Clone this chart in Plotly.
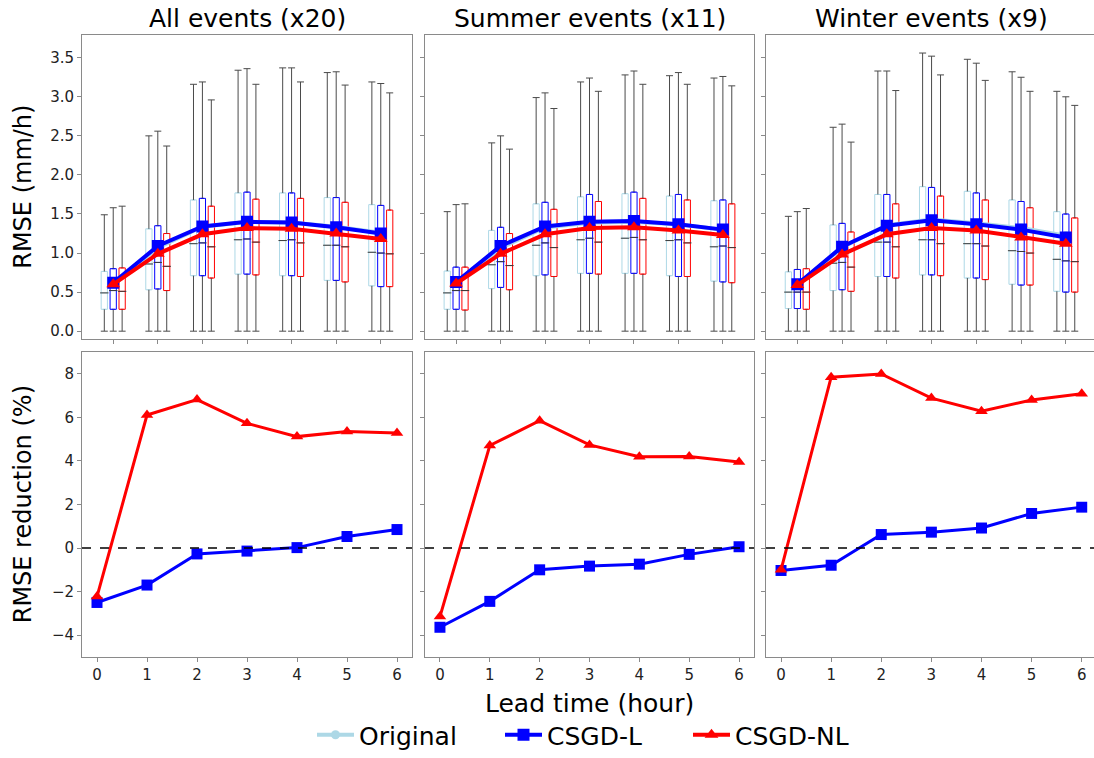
import plotly.graph_objects as go
from plotly.subplots import make_subplots

# ---------------- data ----------------
leads = [0, 1, 2, 3, 4, 5, 6]
series_names = ["Original", "CSGD-L", "CSGD-NL"]
panel_titles = ["All events (x20)", "Summer events (x11)", "Winter events (x9)"]

# All events: rows = Original, CSGD-L, CSGD-NL
all_min = [[0, 0, 0, 0, 0, 0, 0], [0, 0, 0, 0, 0, 0, 0], [0, 0, 0, 0, 0, 0, 0]]
all_q1 = [[0.28, 0.53, 0.71, 0.73, 0.71, 0.65, 0.58],
          [0.28, 0.54, 0.71, 0.73, 0.71, 0.65, 0.57],
          [0.28, 0.52, 0.68, 0.72, 0.70, 0.63, 0.57]]
all_med = [[0.49, 0.86, 1.12, 1.17, 1.16, 1.10, 1.01],
           [0.52, 0.88, 1.13, 1.18, 1.17, 1.10, 1.00],
           [0.51, 0.83, 1.08, 1.14, 1.13, 1.08, 0.99]]
all_q3 = [[0.765, 1.31, 1.68, 1.77, 1.77, 1.71, 1.62],
          [0.80, 1.35, 1.70, 1.78, 1.77, 1.71, 1.61],
          [0.81, 1.25, 1.60, 1.69, 1.70, 1.65, 1.55]]
all_max = [[1.49, 2.50, 3.16, 3.34, 3.37, 3.31, 3.19],
           [1.58, 2.56, 3.19, 3.36, 3.37, 3.32, 3.17],
           [1.60, 2.37, 2.96, 3.16, 3.19, 3.15, 3.05]]
all_mean = [[0.605, 1.07, 1.337, 1.398, 1.39, 1.337, 1.26],
            [0.62, 1.09, 1.34, 1.40, 1.39, 1.33, 1.25],
            [0.60, 0.99, 1.24, 1.32, 1.31, 1.25, 1.18]]
all_red_L = [-2.5, -1.70, -0.27, -0.14, 0.02, 0.53, 0.85]
all_red_NL = [-2.23, 6.11, 6.82, 5.73, 5.12, 5.35, 5.29]

# Summer events
sum_min = [[0, 0, 0, 0, 0, 0, 0], [0, 0, 0, 0, 0, 0, 0], [0, 0, 0, 0, 0, 0, 0]]
sum_q1 = [[0.28, 0.545, 0.71, 0.74, 0.74, 0.71, 0.64],
          [0.28, 0.56, 0.72, 0.74, 0.74, 0.70, 0.63],
          [0.27, 0.53, 0.70, 0.73, 0.73, 0.70, 0.62]]
sum_med = [[0.49, 0.85, 1.10, 1.17, 1.19, 1.16, 1.08],
           [0.52, 0.89, 1.13, 1.19, 1.20, 1.17, 1.09],
           [0.52, 0.84, 1.07, 1.14, 1.17, 1.13, 1.07]]
sum_q3 = [[0.77, 1.29, 1.63, 1.72, 1.76, 1.73, 1.67],
          [0.82, 1.33, 1.65, 1.75, 1.78, 1.75, 1.68],
          [0.82, 1.25, 1.56, 1.66, 1.70, 1.68, 1.63]]
sum_max = [[1.53, 2.41, 2.99, 3.19, 3.28, 3.27, 3.24],
           [1.62, 2.50, 3.05, 3.24, 3.33, 3.31, 3.26],
           [1.63, 2.33, 2.85, 3.07, 3.16, 3.16, 3.14]]
sum_mean = [[0.61, 1.065, 1.327, 1.388, 1.40, 1.366, 1.30],
            [0.63, 1.09, 1.34, 1.40, 1.41, 1.37, 1.30],
            [0.61, 0.99, 1.24, 1.32, 1.33, 1.29, 1.23]]
sum_red_L = [-3.64, -2.45, -1.0, -0.83, -0.74, -0.29, 0.06]
sum_red_NL = [-3.15, 4.71, 5.85, 4.74, 4.20, 4.21, 3.95]

# Winter events
win_min = [[0, 0, 0, 0, 0, 0, 0], [0, 0, 0, 0, 0, 0, 0], [0, 0, 0, 0, 0, 0, 0]]
win_q1 = [[0.29, 0.52, 0.70, 0.72, 0.68, 0.60, 0.51],
          [0.29, 0.53, 0.70, 0.72, 0.68, 0.59, 0.50],
          [0.28, 0.51, 0.68, 0.71, 0.66, 0.59, 0.50]]
win_med = [[0.50, 0.87, 1.14, 1.17, 1.12, 1.03, 0.92],
           [0.50, 0.88, 1.14, 1.17, 1.12, 1.02, 0.90],
           [0.50, 0.82, 1.08, 1.12, 1.09, 1.00, 0.89]]
win_q3 = [[0.76, 1.36, 1.75, 1.85, 1.79, 1.68, 1.53],
          [0.79, 1.38, 1.75, 1.84, 1.77, 1.66, 1.50],
          [0.80, 1.27, 1.63, 1.73, 1.68, 1.58, 1.45]]
win_max = [[1.47, 2.61, 3.33, 3.56, 3.48, 3.32, 3.07],
           [1.53, 2.65, 3.33, 3.52, 3.43, 3.25, 3.00],
           [1.57, 2.42, 3.08, 3.28, 3.21, 3.07, 2.89]]
win_mean = [[0.594, 1.071, 1.358, 1.43, 1.383, 1.32, 1.223],
            [0.60, 1.08, 1.35, 1.42, 1.37, 1.30, 1.20],
            [0.59, 0.98, 1.24, 1.32, 1.29, 1.20, 1.12]]
win_red_L = [-1.03, -0.79, 0.62, 0.73, 0.92, 1.59, 1.88]
win_red_NL = [-1.0, 7.85, 8.0, 6.89, 6.29, 6.80, 7.09]

top_yticks = [0.0, 0.5, 1.0, 1.5, 2.0, 2.5, 3.0, 3.5]
bot_yticks = [-4, -2, 0, 2, 4, 6, 8]

# ---------------- styling ----------------
W, H = 1094, 758
FONT = "DejaVu Sans"
box_colors = ["#add8e6", "#0000ff", "#ff0000"]
line_colors = ["#add8e6", "#0000ff", "#ff0000"]
symbols = ["circle", "square", "triangle-up"]
offsets = [-0.2, 0.0, 0.2]
whisker_color = "#4a4a4a"
frame_color = "#8a8a8a"

panels = [
    (all_min, all_q1, all_med, all_q3, all_max, all_mean, all_red_L, all_red_NL),
    (sum_min, sum_q1, sum_med, sum_q3, sum_max, sum_mean, sum_red_L, sum_red_NL),
    (win_min, win_q1, win_med, win_q3, win_max, win_mean, win_red_L, win_red_NL),
]

col_px = [(82, 412), (425, 754), (766, 1094)]
top_px = (35, 342)
bot_px = (355, 663)
top_xrange = [[-0.7, 6.7], [-0.7, 6.7], [-0.7, 6.63]]
bot_xrange = [[-0.3, 6.3], [-0.3, 6.3], [-0.3, 6.245]]

fig = make_subplots(rows=2, cols=3)

for c, (pmin, pq1, pmed, pq3, pmax, pmean, redL, redNL) in enumerate(panels):
    row_top, row_bot, col = 1, 2, c + 1
    for s in range(3):
        xs = [l + offsets[s] for l in leads]
        # whiskers
        wx, wy = [], []
        for i, x in enumerate(xs):
            wx += [x, x, None, x, x, None]
            wy += [pq1[s][i], pmin[s][i], None, pq3[s][i], pmax[s][i], None]
        fig.add_trace(go.Scatter(x=wx, y=wy, mode="lines",
                                 line=dict(color=whisker_color, width=1),
                                 showlegend=False, hoverinfo="skip"),
                      row=row_top, col=col)
        # caps
        fig.add_trace(go.Scatter(x=xs + xs, y=pmin[s] + pmax[s], mode="markers",
                                 marker=dict(symbol="line-ew", size=5,
                                             line=dict(color=whisker_color, width=1)),
                                 showlegend=False, hoverinfo="skip"),
                      row=row_top, col=col)
        # boxes
        fig.add_trace(go.Box(x=xs, q1=pq1[s], median=pmed[s], q3=pq3[s],
                             lowerfence=pq1[s], upperfence=pq3[s],
                             width=0.14, line=dict(color=box_colors[s], width=1),
                             fillcolor="rgba(255,255,255,0)", boxpoints=False,
                             showlegend=False, hoverinfo="skip"),
                      row=row_top, col=col)
        # medians
        fig.add_trace(go.Scatter(x=xs, y=pmed[s], mode="markers",
                                 marker=dict(symbol="line-ew", size=6,
                                             line=dict(color="#3a3a3a", width=1)),
                                 showlegend=False, hoverinfo="skip"),
                      row=row_top, col=col)
    # mean lines
    msizes = [9, 12, 12]
    for s in range(3):
        fig.add_trace(go.Scatter(x=leads, y=pmean[s], mode="lines+markers",
                                 name=series_names[s],
                                 line=dict(color=line_colors[s], width=4),
                                 marker=dict(symbol=symbols[s], size=msizes[s],
                                             color=line_colors[s]),
                                 showlegend=(c == 0), legendgroup=series_names[s]),
                      row=row_top, col=col)
    # reductions
    for s, vals in ((1, redL), (2, redNL)):
        fig.add_trace(go.Scatter(x=leads, y=vals, mode="lines+markers",
                                 name=series_names[s],
                                 line=dict(color=line_colors[s], width=3),
                                 marker=dict(symbol=symbols[s], size=msizes[s] - 1,
                                             color=line_colors[s]),
                                 showlegend=False, legendgroup=series_names[s]),
                      row=row_bot, col=col)

axis_common = dict(showline=True, mirror=True, linecolor=frame_color, linewidth=1,
                   ticks="outside", ticklen=4, tickcolor=frame_color, tickwidth=1,
                   showgrid=False, zeroline=False,
                   tickfont=dict(family=FONT, size=15, color="#222222"))

for c in range(3):
    x0, x1 = col_px[c]
    xt, xb = c + 1, c + 4
    fig.layout[f"xaxis{xt}"].update(domain=[x0 / W, x1 / W], range=top_xrange[c],
                                    tickvals=leads, showticklabels=False, **axis_common)
    fig.layout[f"xaxis{xb}"].update(domain=[x0 / W, x1 / W], range=bot_xrange[c],
                                    tickvals=leads, showticklabels=True, **axis_common)
    fig.layout[f"yaxis{xt}"].update(domain=[1 - top_px[1] / H, 1 - top_px[0] / H],
                                    range=[-0.098, 3.795], tickvals=top_yticks,
                                    tickformat=".1f", showticklabels=(c == 0), **axis_common)
    fig.layout[f"yaxis{xb}"].update(domain=[1 - bot_px[1] / H, 1 - bot_px[0] / H],
                                    range=[-5.0, 9.02], tickvals=bot_yticks,
                                    showticklabels=(c == 0), **axis_common)
    # zero reference line
    fig.add_shape(type="line", xref=f"x{xb} domain", yref=f"y{xb}",
                  x0=0, x1=1, y0=0, y1=0,
                  line=dict(color="black", width=1.5, dash="dash"))
    # panel title
    fig.add_annotation(text=panel_titles[c], xref="paper", yref="paper",
                       x=(x0 + x1) / 2 / W if c < 2 else (x0 + 1097) / 2 / W,
                       y=1 - 19 / H, xanchor="center", yanchor="middle",
                       showarrow=False, font=dict(family=FONT, size=25, color="black"))

fig.add_annotation(text="RMSE (mm/h)", xref="paper", yref="paper",
                   x=23 / W, y=1 - (top_px[0] + top_px[1]) / 2 / H,
                   textangle=-90, xanchor="center", yanchor="middle", showarrow=False,
                   font=dict(family=FONT, size=24, color="black"))
fig.add_annotation(text="RMSE reduction (%)", xref="paper", yref="paper",
                   x=23 / W, y=1 - (bot_px[0] + bot_px[1]) / 2 / H,
                   textangle=-90, xanchor="center", yanchor="middle", showarrow=False,
                   font=dict(family=FONT, size=24, color="black"))
fig.add_annotation(text="Lead time (hour)", xref="paper", yref="paper",
                   x=589 / W, y=1 - 710 / H, xanchor="center", yanchor="middle",
                   showarrow=False, font=dict(family=FONT, size=25, color="black"))

fig.update_layout(
    width=W, height=H, margin=dict(l=0, r=0, t=0, b=0),
    paper_bgcolor="white", plot_bgcolor="white",
    font=dict(family=FONT, color="black"),
    boxmode="overlay",
    legend=dict(orientation="h", x=312 / W, xanchor="left", y=1 - 742 / H,
                yanchor="middle", font=dict(family=FONT, size=25, color="black"),
                bgcolor="rgba(0,0,0,0)", itemwidth=37,
                entrywidth=136, entrywidthmode="pixels"),
)

fig.write_html("out.html")
